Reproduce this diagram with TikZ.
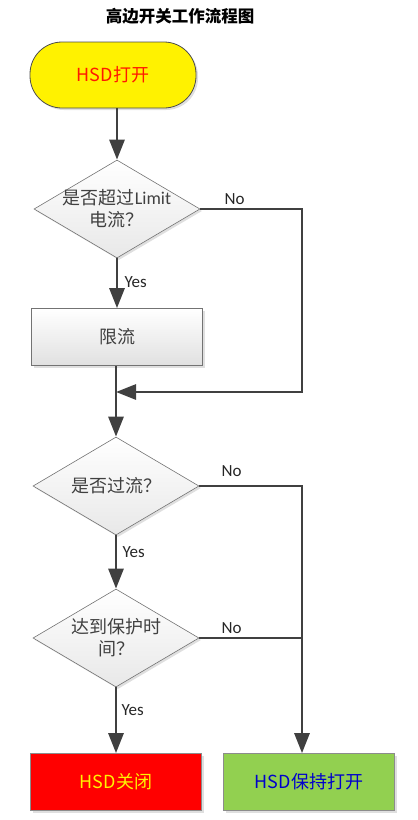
\documentclass[tikz,border=0pt]{standalone}
\usepackage{fontspec}
\setmainfont{Carlito}
\newfontfamily\cjk{Noto Sans CJK SC}
\usetikzlibrary{shapes.geometric,arrows.meta,shadows}

\begin{document}
\begin{tikzpicture}[x=1pt,y=-1pt,every node/.style={align=center},
	flow/.style={draw=black!75,line width=2.8pt,-{Triangle[width=15pt,length=20pt]}},
	link/.style={draw=black!75,line width=2.8pt},
	shade/.style={drop shadow={opacity=0.25,shadow xshift=2pt,shadow yshift=-2pt}},
	terminal/.style={rectangle,rounded corners=32pt,draw=black!70,line width=0.8pt,fill=yellow,minimum width=166pt,minimum height=66pt,font=\cjk\fontsize{18}{22}\selectfont,text=red!80!orange,shade},
	decision/.style={diamond,aspect=1.69,draw=black!55,line width=0.6pt,top color=white,bottom color=black!9,minimum width=166pt,minimum height=98pt,inner sep=-3pt,font=\fontsize{18}{22}\selectfont,text=black!75,shade},
	process/.style={rectangle,draw=black!55,line width=0.6pt,top color=white,bottom color=black!12,minimum width=171pt,minimum height=57pt,font=\cjk\fontsize{18}{22}\selectfont,text=black!75,shade},
	result/.style={rectangle,draw=black!45,line width=0.6pt,minimum width=171pt,minimum height=57pt,font=\cjk\fontsize{18}{22}\selectfont,shade},
	answer/.style={anchor=west,font=\fontsize{17}{20}\selectfont,text=black!85}]
	\useasboundingbox (0,0) rectangle (418,820);
	\node (title) at (180,16) {\cjk\bfseries\fontsize{16.5}{20}\selectfont 高边开关工作流程图};
	\node [terminal] (start) at (113,75) {HSD打开};
	\node [decision] (limit) at (117,209) {{\cjk 是否超过}Limit \\ {\cjk 电流？}};
	\node [process] (clamp) at (117,337) {限流};
	\node [decision] (over) at (116,486) {{\cjk 是否过流？}};
	\node [decision] (timeout) at (116,638) {{\cjk 达到保护时} \\ {\cjk 间？}};
	\node [result,fill=red,text=yellow] (off) at (116,782) {HSD关闭};
	\node [result,fill={rgb,255:red,146;green,208;blue,80},text=blue!80!black] (keep) at (309,782) {HSD保持打开};
	\coordinate (loopR) at (302,392);
	\coordinate (merge) at (116,392);
	% Yes / No labels
	\node [answer] (noA) at (221,199) {No};
	\node [answer] (yesA) at (121,282) {Yes};
	\node [answer] (noB) at (218,471) {No};
	\node [answer] (yesB) at (119,552) {Yes};
	\node [answer] (noC) at (218,628) {No};
	\node [answer] (yesC) at (118,710) {Yes};
	% connectors
	\draw [flow] (start.south -| limit) -- (limit);
	\draw [flow] (limit) -- (clamp);
	\draw [flow] (limit.east) -| (loopR) -- (merge);
	\draw [link] (clamp.south -| merge) -- (merge);
	\draw [flow] (merge) -- (over);
	\draw [flow] (over) -- (timeout);
	\draw [flow] (over.east) -| (keep.north -| loopR);
	\draw [link] (timeout.east) -- (timeout.east -| loopR);
	\draw [flow] (timeout) -- (off);
\end{tikzpicture}
\end{document}
